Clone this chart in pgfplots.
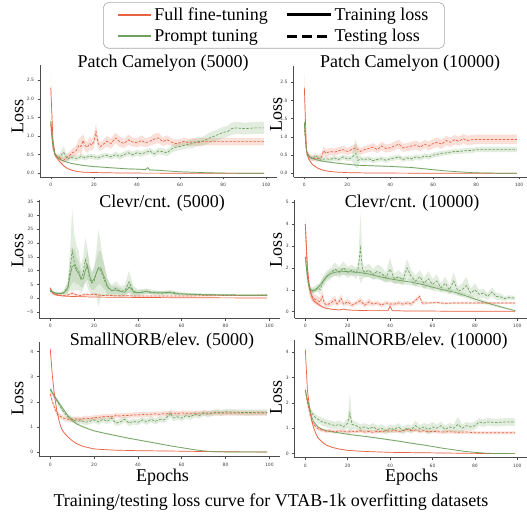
\documentclass[border=0pt]{standalone}
\usepackage{pgfplots}
\pgfplotsset{compat=1.18}
\usepackage{pgfplotstable}
\usepgfplotslibrary{fillbetween}
\usepackage{fontspec}
\setmainfont{Liberation Serif}
\newfontfamily\tickfont{DejaVu Sans}
\definecolor{fft}{RGB}{233,98,67}
\definecolor{ptc}{RGB}{111,161,94}

\newcommand{\series}[4]{%
 \addplot[draw=none, name path=u#4, forget plot] table[x=x, y expr=\thisrow{y}+\thisrow{e}] {#1};
 \addplot[draw=none, name path=l#4, forget plot] table[x=x, y expr=\thisrow{y}-\thisrow{e}] {#1};
 \addplot[fill=#2, fill opacity=0.2, draw=none, forget plot] fill between[of=u#4 and l#4];
 \addplot[color=#2, #3, line width=0.7pt, forget plot] table[x=x, y=y] {#1};
}
\tikzset{trainl/.style={solid}, testl/.style={dash pattern=on 2.5pt off 1.5pt}}
\pgfplotsset{shortleg/.style={legend image code/.code={\draw[##1] (0pt,0pt) -- (33pt,0pt);}},
  longleg/.style={legend image code/.code={\draw[##1] (0pt,0pt) -- (44pt,0pt);}}}

\pgfplotsset{panel/.style={scale only axis, anchor=south west, xmin=-5, xmax=105,
  xtick={0,20,40,60,80,100},
  axis x line*=bottom, axis y line*=left, tick align=outside,
  major tick length=2.5pt, tick style={black!70, line width=0.5pt},
  axis line style={black!70, line width=0.6pt},
  ticklabel style={font=\tickfont\fontsize{4.5}{5}\selectfont, text=black!75},
  /pgf/number format/assume math mode=true}}

% ---------------- Patch Camelyon (5000)
\pgfplotstableread{
x y e
0 2.30 0.45
1 0.90 0.15
2 0.50 0.05
3 0.40 0.04
4 0.32 0.03
6 0.20 0.03
8 0.12 0.02
10 0.08 0.02
12 0.05 0.01
15 0.03 0.01
20 0.02 0.01
30 0.01 0.005
40 0.005 0.005
60 0.002 0.002
99 0.0 0.002
}\tlFT
\pgfplotstableread{
x y e
0 1.40 0.15
1 0.80 0.05
2 0.50 0.03
3 0.42 0.02
5 0.35 0.02
8 0.29 0.02
10 0.26 0.02
15 0.21 0.02
20 0.18 0.02
25 0.16 0.02
30 0.14 0.02
35 0.12 0.02
40 0.11 0.02
44 0.10 0.02
45 0.15 0.03
46 0.09 0.02
50 0.08 0.02
55 0.06 0.01
60 0.04 0.01
65 0.03 0.01
70 0.02 0.01
80 0.005 0.005
99 0.0 0.002
}\tlFG
\pgfplotstableread{
x y e
0 1.30 0.25
1 0.70 0.10
2 0.48 0.06
3 0.44 0.06
4 0.42 0.07
5 0.38 0.08
6 0.35 0.08
7 0.40 0.08
8 0.45 0.10
9 0.50 0.10
10 0.55 0.12
11 0.58 0.12
12 0.62 0.15
13 0.75 0.18
14 0.72 0.25
15 0.88 0.18
16 0.74 0.15
17 0.70 0.15
18 0.80 0.18
19 0.76 0.15
20 0.85 0.18
21 1.12 0.22
22 0.80 0.15
23 0.72 0.12
24 0.76 0.12
26 0.86 0.14
28 0.80 0.14
30 0.95 0.14
32 0.85 0.14
34 0.80 0.12
36 0.90 0.14
38 0.84 0.12
40 0.82 0.12
42 0.88 0.14
44 0.82 0.12
46 0.86 0.12
48 0.92 0.14
50 0.95 0.14
52 0.85 0.12
54 0.90 0.12
56 0.84 0.10
58 0.80 0.10
60 0.82 0.10
62 0.86 0.10
64 0.82 0.10
66 0.85 0.10
68 0.82 0.10
70 0.85 0.10
75 0.85 0.10
80 0.85 0.10
90 0.85 0.10
99 0.85 0.10
}\tlTF
\pgfplotstableread{
x y e
0 1.35 0.15
1 0.70 0.08
2 0.50 0.05
3 0.46 0.06
4 0.42 0.08
5 0.50 0.12
6 0.56 0.18
7 0.45 0.12
8 0.38 0.08
9 0.44 0.08
10 0.42 0.08
12 0.40 0.07
14 0.45 0.07
16 0.42 0.07
18 0.46 0.07
20 0.44 0.07
22 0.42 0.07
24 0.46 0.07
26 0.48 0.07
28 0.44 0.07
30 0.50 0.08
32 0.45 0.08
34 0.50 0.08
36 0.55 0.08
38 0.50 0.08
40 0.55 0.08
42 0.52 0.08
44 0.56 0.08
46 0.60 0.08
48 0.52 0.08
50 0.60 0.09
52 0.58 0.09
54 0.55 0.09
56 0.65 0.10
58 0.70 0.10
60 0.72 0.10
62 0.75 0.10
64 0.78 0.11
66 0.80 0.12
68 0.86 0.12
70 0.85 0.12
72 0.90 0.13
74 0.96 0.14
76 1.00 0.14
78 1.05 0.15
80 1.10 0.15
82 1.12 0.15
84 1.20 0.16
86 1.22 0.16
90 1.20 0.16
95 1.22 0.16
99 1.22 0.16
}\tlTG

% ---------------- Patch Camelyon (10000)
\pgfplotstableread{
x y e
0 2.35 0.45
1 0.60 0.10
2 0.40 0.04
3 0.30 0.03
4 0.23 0.02
6 0.15 0.02
8 0.10 0.02
10 0.07 0.01
12 0.05 0.01
15 0.035 0.01
20 0.02 0.01
30 0.01 0.005
50 0.005 0.005
99 0.0 0.002
}\trFT
\pgfplotstableread{
x y e
0 1.40 0.15
1 0.60 0.05
2 0.48 0.03
3 0.43 0.02
5 0.38 0.02
8 0.34 0.02
10 0.32 0.02
15 0.28 0.02
20 0.25 0.02
25 0.22 0.02
30 0.21 0.02
40 0.19 0.02
50 0.16 0.02
55 0.13 0.02
60 0.10 0.02
65 0.07 0.01
70 0.05 0.01
75 0.03 0.01
80 0.015 0.01
90 0.005 0.005
99 0.0 0.002
}\trFG
\pgfplotstableread{
x y e
0 1.30 0.20
1 0.60 0.10
2 0.45 0.08
4 0.42 0.08
6 0.40 0.08
8 0.45 0.10
9 0.62 0.12
10 0.55 0.10
12 0.60 0.10
14 0.58 0.10
16 0.62 0.10
18 0.65 0.10
20 0.60 0.10
22 0.65 0.10
24 0.70 0.12
26 0.60 0.10
28 0.65 0.10
30 0.68 0.10
32 0.72 0.11
34 0.65 0.10
36 0.75 0.12
38 0.68 0.11
40 0.70 0.11
42 0.75 0.12
44 0.80 0.12
46 0.70 0.11
48 0.72 0.11
50 0.75 0.12
52 0.78 0.12
54 0.72 0.12
56 0.80 0.12
58 0.75 0.12
60 0.82 0.13
62 0.85 0.13
64 0.80 0.13
66 0.90 0.13
68 0.85 0.13
70 0.92 0.13
72 0.88 0.13
74 0.95 0.13
76 0.90 0.13
78 0.92 0.13
80 0.93 0.13
85 0.93 0.13
90 0.93 0.13
99 0.93 0.13
}\trTF
\pgfplotstableread{
x y e
0 1.30 0.15
1 0.60 0.08
2 0.50 0.07
3 0.42 0.07
4 0.40 0.07
5 0.48 0.08
6 0.45 0.08
7 0.40 0.07
8 0.38 0.07
10 0.40 0.07
12 0.38 0.07
14 0.42 0.07
16 0.38 0.07
18 0.45 0.07
20 0.40 0.07
22 0.42 0.07
24 0.55 0.40
25 0.35 0.20
26 0.40 0.07
28 0.38 0.07
30 0.40 0.07
32 0.35 0.07
34 0.38 0.07
36 0.40 0.07
38 0.36 0.07
40 0.40 0.07
42 0.42 0.07
44 0.45 0.07
46 0.38 0.07
48 0.42 0.07
50 0.40 0.07
52 0.45 0.07
54 0.42 0.07
56 0.48 0.07
58 0.45 0.07
60 0.50 0.07
62 0.52 0.07
64 0.55 0.07
66 0.56 0.07
68 0.58 0.07
70 0.60 0.07
72 0.60 0.07
75 0.62 0.07
78 0.63 0.07
80 0.65 0.07
85 0.65 0.07
90 0.65 0.07
99 0.65 0.07
}\trTG

% ---------------- Clevr/cnt. (5000)
\pgfplotstableread{
x y e
0 3.80 0.50
1 2.00 0.30
2 1.30 0.20
4 1.00 0.10
6 0.80 0.10
10 0.65 0.10
20 0.45 0.05
40 0.30 0.05
60 0.20 0.05
80 0.15 0.03
99 0.10 0.03
}\mlFT
\pgfplotstableread{
x y e
0 2.80 0.6
2 1.90 0.4
4 1.70 0.4
6 1.80 0.5
8 3.50 2
9 8.00 4
10 11.5 6
11 12.0 6
12 10.0 5
13 9.0 4
14 7.0 3
15 7.0 3
16 10.0 4
17 12.0 5
18 8.0 4
19 6.0 3
20 7.0 4
21 9.0 5
22 11.0 6
23 11.0 6
24 9.0 5
25 7.0 4
26 4.5 3
27 3.5 2
28 2.8 1.5
30 3.0 1.5
32 2.5 1.2
34 2.2 1
36 4.0 2
37 3.5 2
38 2.2 1
40 2.0 0.8
42 2.2 0.8
44 2.5 0.8
46 2.0 0.6
50 2.0 0.6
54 2.1 0.6
58 1.6 0.5
62 1.5 0.4
70 1.3 0.3
80 1.2 0.3
90 1.1 0.3
99 1.1 0.3
}\mlFG
\pgfplotstableread{
x y e
0 3.50 0.5
1 2.00 0.3
2 1.50 0.3
4 1.20 0.3
6 1.00 0.3
8 1.20 0.4
10 1.80 0.6
12 1.20 0.5
14 1.00 0.4
16 1.40 0.5
18 1.20 0.4
20 1.50 0.5
22 1.20 0.4
24 1.00 0.3
26 1.10 0.3
30 0.90 0.3
35 0.90 0.3
40 0.80 0.2
50 0.80 0.2
60 0.80 0.2
70 0.90 0.2
80 1.00 0.2
90 1.00 0.2
99 1.00 0.2
}\mlTF
\pgfplotstableread{
x y e
0 2.5 0.5
2 2.0 0.4
4 1.8 0.4
6 2.0 0.6
8 4.0 2
9 10.0 7
10 17.5 15
11 13.0 10
12 11.0 8
13 10.0 7
14 7.0 5
15 9.0 6
16 14.0 8
17 11.0 7
18 7.0 5
19 5.5 4
20 6.0 5
21 9.0 8
22 11.0 14
23 10.0 10
24 8.0 7
25 6.0 5
26 4.0 3
28 2.8 2
30 3.6 2.5
32 2.5 2
34 2.8 2
36 6.0 4
37 4.0 3
38 2.5 2
40 2.0 1.2
44 2.5 1
48 2.0 0.8
52 1.8 0.8
55 2.2 0.8
60 1.6 0.5
70 1.3 0.4
80 1.2 0.3
90 1.1 0.3
99 1.2 0.3
}\mlTG

% ---------------- Clevr/cnt. (10000)
\pgfplotstableread{
x y e
0 4.00 0.30
1 2.00 0.30
2 1.10 0.20
3 0.70 0.15
4 0.50 0.10
6 0.35 0.08
8 0.22 0.05
10 0.15 0.04
12 0.12 0.03
14 0.10 0.03
16 0.08 0.02
18 0.12 0.02
20 0.08 0.02
25 0.06 0.02
30 0.05 0.02
35 0.05 0.02
39 0.05 0.02
40 0.25 0.05
41 0.05 0.02
45 0.04 0.02
50 0.03 0.01
60 0.03 0.01
70 0.02 0.01
80 0.02 0.01
99 0.02 0.01
}\mrFT
\pgfplotstableread{
x y e
0 2.50 0.15
1 1.60 0.15
2 1.10 0.10
3 0.95 0.10
4 0.95 0.10
5 1.00 0.10
6 1.10 0.12
8 1.35 0.15
10 1.60 0.15
12 1.75 0.15
14 1.80 0.15
17 1.85 0.15
20 1.83 0.15
25 1.80 0.15
30 1.72 0.15
35 1.60 0.15
40 1.50 0.15
45 1.42 0.15
50 1.35 0.15
55 1.25 0.15
60 1.12 0.15
65 1.00 0.12
70 0.90 0.12
75 0.75 0.10
80 0.58 0.10
85 0.42 0.08
90 0.28 0.06
95 0.15 0.04
99 0.05 0.02
}\mrFG
\pgfplotstableread{
x y e
0 4.00 0.30
1 1.80 0.40
2 1.00 0.30
3 0.75 0.25
4 0.60 0.20
5 0.55 0.20
6 0.50 0.20
7 0.45 0.20
8 0.70 0.30
9 0.40 0.15
10 0.30 0.10
12 0.40 0.15
14 0.55 0.20
15 0.35 0.10
17 0.60 0.20
18 0.35 0.10
20 0.45 0.15
22 0.30 0.10
24 0.40 0.10
26 0.50 0.15
28 0.30 0.10
30 0.45 0.15
32 0.35 0.10
34 0.40 0.10
36 0.30 0.10
38 0.40 0.10
40 0.35 0.10
42 0.35 0.10
44 0.40 0.10
46 0.35 0.10
48 0.40 0.10
50 0.35 0.10
54 0.70 0.10
55 0.40 0.10
58 0.40 0.05
62 0.42 0.05
66 0.38 0.05
70 0.40 0.05
80 0.40 0.05
90 0.40 0.05
99 0.40 0.05
}\mrTF
\pgfplotstableread{
x y e
0 2.50 0.20
1 1.50 0.20
2 1.00 0.15
3 0.95 0.15
4 1.00 0.15
5 1.05 0.15
6 1.10 0.20
7 1.00 0.20
8 1.30 0.25
10 1.60 0.25
12 1.75 0.25
14 1.95 0.30
16 1.80 0.25
18 2.00 0.30
20 1.80 0.25
22 1.90 0.25
24 1.75 0.25
25 2.00 0.30
26 2.90 1.60
27 1.90 0.40
28 1.80 0.25
30 1.90 0.30
32 1.70 0.25
34 1.85 0.30
36 1.75 0.30
38 1.55 0.25
40 1.95 0.50
42 1.50 0.25
44 1.60 0.30
46 1.45 0.25
48 2.00 0.40
50 1.60 0.30
52 1.40 0.25
54 1.60 0.30
56 1.30 0.25
58 1.50 0.35
60 1.25 0.25
62 1.40 0.30
64 1.10 0.20
66 1.30 0.30
68 1.00 0.20
70 1.40 0.40
72 0.95 0.20
74 1.00 0.30
76 1.20 0.40
78 0.85 0.20
80 1.00 0.30
82 0.80 0.20
84 0.85 0.20
86 0.70 0.15
88 0.90 0.20
90 0.70 0.15
92 0.68 0.15
94 0.60 0.10
96 0.65 0.10
99 0.62 0.10
}\mrTG

% ---------------- SmallNORB/elev. (5000)
\pgfplotstableread{
x y e
0 4.10 0.10
1 3.00 0.10
2 2.20 0.08
3 1.65 0.06
4 1.25 0.05
5 0.95 0.04
6 0.80 0.03
8 0.60 0.03
10 0.45 0.02
12 0.33 0.02
15 0.22 0.02
20 0.12 0.01
25 0.09 0.01
30 0.07 0.01
40 0.05 0.01
50 0.04 0.01
60 0.03 0.01
70 0.015 0.01
80 0.005 0.005
99 0.0 0.002
}\blFT
\pgfplotstableread{
x y e
0 2.50 0.10
2 2.20 0.10
4 1.95 0.08
6 1.70 0.06
8 1.45 0.05
10 1.25 0.05
12 1.12 0.04
15 1.00 0.04
18 0.90 0.03
20 0.84 0.03
25 0.74 0.03
30 0.65 0.03
35 0.56 0.03
40 0.48 0.03
45 0.40 0.03
50 0.32 0.03
55 0.24 0.02
60 0.17 0.02
65 0.10 0.02
70 0.04 0.01
75 0.01 0.01
80 0.0 0.005
99 0.0 0.002
}\blFG
\pgfplotstableread{
x y e
0 2.30 0.10
1 2.00 0.10
2 1.75 0.10
3 1.55 0.10
4 1.45 0.10
6 1.35 0.10
8 1.30 0.10
10 1.28 0.10
12 1.32 0.10
14 1.30 0.10
16 1.35 0.10
18 1.33 0.10
20 1.36 0.10
22 1.38 0.10
24 1.40 0.10
26 1.42 0.10
28 1.40 0.10
30 1.45 0.10
32 1.43 0.10
34 1.46 0.10
36 1.45 0.10
38 1.48 0.10
40 1.47 0.10
42 1.50 0.10
44 1.48 0.10
46 1.50 0.10
48 1.52 0.10
50 1.50 0.10
52 1.53 0.10
54 1.52 0.10
56 1.55 0.10
58 1.53 0.10
60 1.55 0.10
65 1.54 0.10
70 1.55 0.10
80 1.55 0.10
90 1.55 0.10
99 1.55 0.10
}\blTF
\pgfplotstableread{
x y e
0 2.50 0.10
2 2.20 0.10
4 1.90 0.10
6 1.60 0.10
8 1.40 0.10
10 1.30 0.12
12 1.22 0.12
14 1.25 0.12
16 1.18 0.12
18 1.22 0.12
20 1.28 0.12
22 1.20 0.12
24 1.30 0.12
26 1.22 0.12
28 1.35 0.12
30 1.15 0.12
32 1.20 0.12
34 1.30 0.12
36 1.15 0.12
38 1.22 0.12
40 1.18 0.12
42 1.28 0.12
44 1.20 0.12
46 1.30 0.12
48 1.22 0.12
50 1.30 0.12
52 1.28 0.12
54 1.45 0.15
55 1.55 0.15
56 1.35 0.12
58 1.40 0.12
60 1.35 0.12
62 1.45 0.12
64 1.40 0.12
66 1.50 0.12
68 1.45 0.12
70 1.55 0.12
72 1.50 0.12
74 1.55 0.12
76 1.60 0.12
78 1.55 0.12
80 1.60 0.12
85 1.58 0.12
90 1.57 0.12
95 1.58 0.12
99 1.58 0.12
}\blTG

% ---------------- SmallNORB/elev. (10000)
\pgfplotstableread{
x y e
0 4.10 0.10
1 2.50 0.10
2 1.80 0.08
3 1.30 0.06
4 1.00 0.05
5 0.78 0.04
6 0.62 0.03
8 0.45 0.03
10 0.33 0.02
13 0.24 0.02
16 0.18 0.02
20 0.13 0.01
25 0.10 0.01
30 0.08 0.01
40 0.05 0.01
50 0.04 0.01
60 0.03 0.01
70 0.02 0.01
80 0.01 0.01
90 0.0 0.005
99 0.0 0.002
}\brFT
\pgfplotstableread{
x y e
0 2.50 0.10
1 2.10 0.10
2 1.75 0.08
3 1.45 0.06
4 1.25 0.05
6 1.05 0.04
8 0.95 0.03
10 0.90 0.03
14 0.84 0.03
18 0.79 0.03
22 0.74 0.03
26 0.70 0.03
30 0.66 0.03
35 0.60 0.03
40 0.54 0.03
45 0.48 0.03
50 0.41 0.03
55 0.35 0.03
60 0.28 0.02
65 0.21 0.02
70 0.15 0.02
75 0.09 0.02
80 0.05 0.01
85 0.02 0.01
90 0.005 0.005
99 0.0 0.002
}\brFG
\pgfplotstableread{
x y e
0 2.50 0.10
1 2.00 0.10
2 1.60 0.10
3 1.30 0.08
4 1.15 0.08
5 1.05 0.07
6 0.98 0.07
8 0.92 0.07
10 0.88 0.07
12 0.90 0.07
14 0.86 0.07
16 0.90 0.07
18 0.87 0.07
20 0.85 0.07
22 0.88 0.07
24 0.86 0.07
26 0.90 0.07
28 0.85 0.07
30 0.87 0.07
32 0.84 0.07
34 0.88 0.07
36 0.86 0.07
38 0.90 0.07
40 0.88 0.07
42 0.92 0.07
44 0.87 0.07
46 0.90 0.07
48 0.95 0.07
50 0.90 0.07
52 0.93 0.07
54 0.88 0.07
56 0.90 0.07
58 0.86 0.07
60 0.88 0.07
64 0.85 0.07
68 0.86 0.07
72 0.84 0.07
76 0.85 0.07
80 0.82 0.06
85 0.82 0.06
90 0.82 0.06
99 0.82 0.06
}\brTF
\pgfplotstableread{
x y e
0 2.50 0.10
1 2.10 0.10
2 1.80 0.10
3 1.60 0.10
4 1.50 0.12
5 1.40 0.15
6 1.35 0.15
8 1.25 0.15
10 1.20 0.15
12 1.15 0.15
14 1.10 0.15
16 1.15 0.15
18 1.05 0.15
20 1.20 0.20
21 1.60 0.80
22 1.15 0.20
24 1.10 0.15
26 1.00 0.15
28 1.05 0.15
30 0.98 0.15
32 1.05 0.15
34 0.95 0.15
36 1.00 0.15
38 0.90 0.15
40 1.00 0.15
42 0.95 0.15
44 1.05 0.15
46 0.90 0.15
48 1.00 0.15
50 0.95 0.15
52 1.10 0.20
54 0.98 0.15
56 1.05 0.15
58 0.95 0.20
60 1.05 0.20
62 1.00 0.15
64 1.10 0.15
66 0.95 0.15
68 1.05 0.15
70 1.00 0.15
72 1.15 0.30
74 1.00 0.15
76 1.10 0.15
78 1.05 0.15
80 1.10 0.15
82 1.25 0.15
84 1.20 0.15
86 1.25 0.15
90 1.22 0.15
95 1.25 0.15
99 1.24 0.15
}\brTG

\begin{document}
\begin{tikzpicture}
\tikzset{lbl/.style={font=\fontsize{18}{20}\selectfont, inner sep=0pt}}

% ===== TL
\begin{axis}[panel, at={(40pt,337pt)}, width=237pt, height=112pt,
  ymin=-0.1, ymax=2.91, ytick={0,0.5,1,1.5,2,2.5},
  yticklabel style={/pgf/number format/.cd, fixed, fixed zerofill, precision=1},
  legend columns=2, legend cell align=left,
  legend style={at={(0.987,1.56)}, anchor=north, draw=black!35, rounded corners=5pt,
    line width=0.6pt, font=\fontsize{18}{20}\selectfont,
    /tikz/every even column/.append style={column sep=16pt},
    inner xsep=14pt, inner ysep=3pt, row sep=3.5pt}]
\addlegendimage{draw=fft, line width=2pt, shortleg}
\addlegendentry{Full fine-tuning}
\addlegendimage{draw=black, line width=2.6pt, longleg}
\addlegendentry{Training loss}
\addlegendimage{draw=ptc, line width=2pt, shortleg}
\addlegendentry{Prompt tuning}
\addlegendimage{draw=black, line width=2.6pt, dash pattern=on 10pt off 5pt, longleg}
\addlegendentry{Testing loss}
\series{\tlFT}{fft}{trainl}{a}
\series{\tlFG}{ptc}{trainl}{b}
\series{\tlTF}{fft}{testl}{c}
\series{\tlTG}{ptc}{testl}{d}
\end{axis}

% ===== TR
\begin{axis}[panel, at={(293.6pt,337pt)}, width=236.2pt, height=111.3pt,
  ymin=-0.1, ymax=2.95, ytick={0,0.5,1,1.5,2,2.5},
  yticklabel style={/pgf/number format/.cd, fixed, fixed zerofill, precision=1}]
\series{\trFT}{fft}{trainl}{e}
\series{\trFG}{ptc}{trainl}{f}
\series{\trTF}{fft}{testl}{g}
\series{\trTG}{ptc}{testl}{h}
\end{axis}

% ===== ML
\begin{axis}[panel, at={(39.3pt,195.7pt)}, width=241pt, height=118.3pt,
  ymin=-7.25, ymax=35.6, ytick={-5,0,5,10,15,20,25,30,35},
  yticklabels={−5,0,5,10,15,20,25,30,35}]
\series{\mlFT}{fft}{trainl}{i}
\series{\mlTF}{fft}{testl}{j}
\series{\mlFG}{ptc}{trainl}{k}
\series{\mlTG}{ptc}{testl}{m}
\end{axis}

% ===== MR
\begin{axis}[panel, at={(294.7pt,195.7pt)}, width=233.2pt, height=118.3pt,
  ymin=-0.3, ymax=5.1, ytick={0,1,2,3,4,5}]
\series{\mrFT}{fft}{trainl}{n}
\series{\mrFG}{ptc}{trainl}{o}
\series{\mrTF}{fft}{testl}{p}
\series{\mrTG}{ptc}{testl}{q}
\end{axis}

% ===== BL
\begin{axis}[panel, at={(39.3pt,57.3pt)}, width=241pt, height=114.4pt,
  ymin=-0.19, ymax=4.37, ytick={0,1,2,3,4}]
\series{\blFT}{fft}{trainl}{r}
\series{\blFG}{ptc}{trainl}{s}
\series{\blTF}{fft}{testl}{t}
\series{\blTG}{ptc}{testl}{u}
\end{axis}

% ===== BR
\begin{axis}[panel, at={(294.7pt,56.3pt)}, width=233.2pt, height=117.7pt,
  ymin=-0.16, ymax=4.47, ytick={0,1,2,3,4}]
\series{\brFT}{fft}{trainl}{v}
\series{\brFG}{ptc}{trainl}{w}
\series{\brTF}{fft}{testl}{x}
\series{\brTG}{ptc}{testl}{y}
\end{axis}

% titles and labels
\node[lbl] at (163pt,451pt) {Patch Camelyon (5000)};
\node[lbl] at (410pt,451pt) {Patch Camelyon (10000)};
\node[lbl] at (162pt,311pt) {Clevr/cnt. (5000)};
\node[lbl] at (412pt,311pt) {Clevr/cnt. (10000)};
\node[lbl] at (162pt,173pt) {SmallNORB/elev. (5000)};
\node[lbl] at (411pt,173pt) {SmallNORB/elev. (10000)};
\node[lbl, rotate=90] at (17.5pt,397.5pt) {Loss};
\node[lbl, rotate=90] at (17.5pt,263pt) {Loss};
\node[lbl, rotate=90] at (17.5pt,115.5pt) {Loss};
\node[lbl, rotate=90] at (276pt,399.5pt) {Loss};
\node[lbl, rotate=90] at (276pt,264pt) {Loss};
\node[lbl, rotate=90] at (276pt,116.5pt) {Loss};
\node[lbl] at (162.5pt,36.5pt) {Epochs};
\node[lbl] at (411.7pt,36.5pt) {Epochs};
\node[lbl] at (271pt,12pt) {Training/testing loss curve for VTAB-1k overfitting datasets};
\pgfresetboundingbox
\useasboundingbox (0pt,0pt) rectangle (527pt,514pt);
\end{tikzpicture}
\end{document}
